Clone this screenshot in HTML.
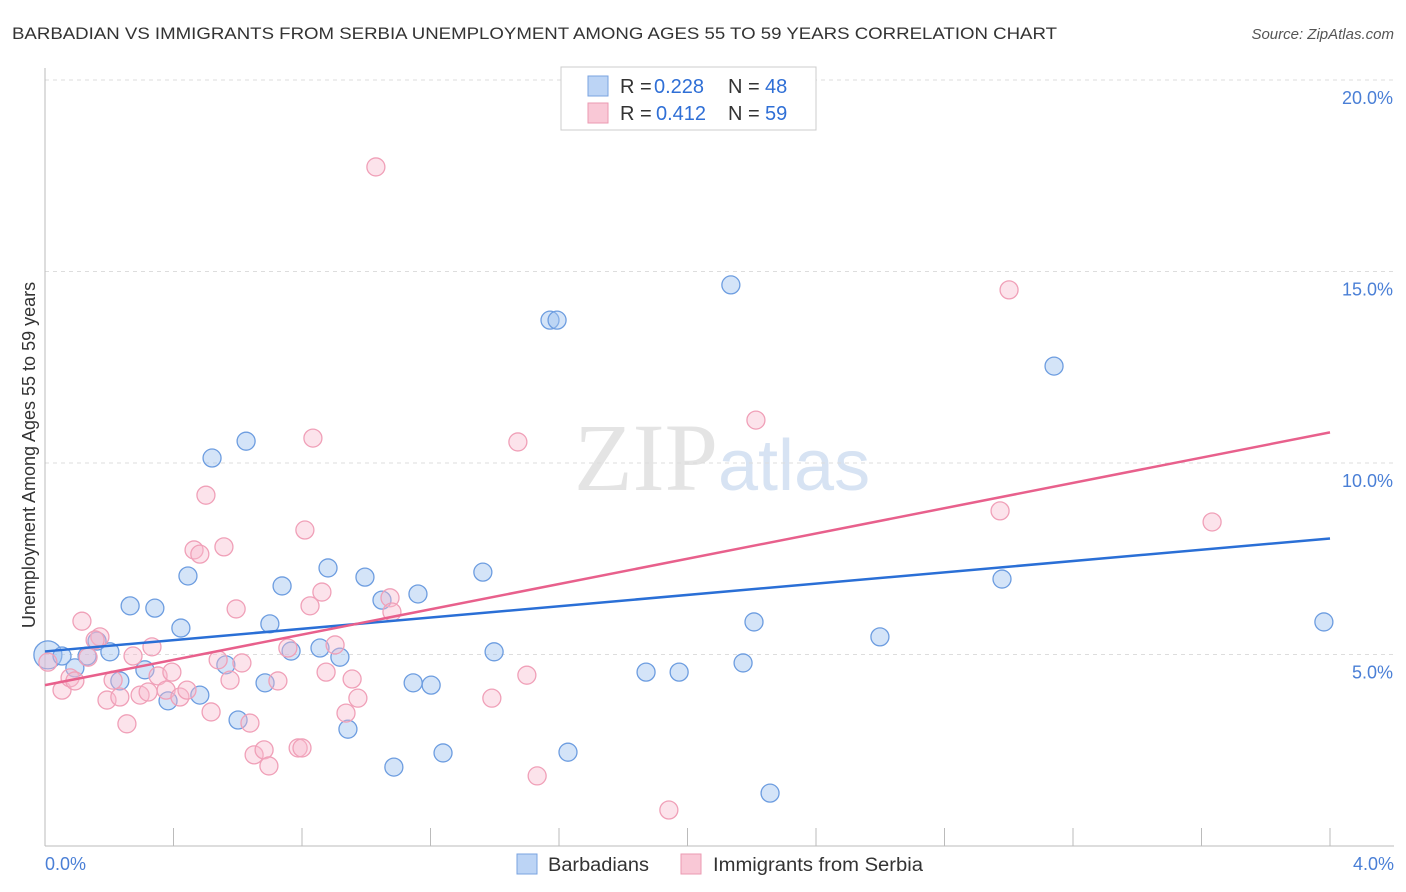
<!DOCTYPE html>
<html><head><meta charset="utf-8"><style>
body{margin:0;background:#fff;font-family:"Liberation Sans",sans-serif}
svg{display:block}
</style></head><body>
<svg width="1406" height="892" xmlns="http://www.w3.org/2000/svg">
<text x="12" y="39" font-size="17" fill="#333" textLength="1045" lengthAdjust="spacingAndGlyphs">BARBADIAN VS IMMIGRANTS FROM SERBIA UNEMPLOYMENT AMONG AGES 55 TO 59 YEARS CORRELATION CHART</text>
<text x="1394" y="39" font-size="15" fill="#555" font-style="italic" text-anchor="end">Source: ZipAtlas.com</text>
<text x="718" y="490" font-size="96" fill="#e4e4e4" text-anchor="end" font-family="Liberation Serif,serif">ZIP</text>
<text x="718" y="490" font-size="72" fill="#d7e3f3">atlas</text>
<g id="grid"></g>
<g id="axes"></g>
<g id="pts"></g>
<g id="lines"></g>
<text transform="translate(35,455) rotate(-90)" font-size="18" fill="#333" text-anchor="middle">Unemployment Among Ages 55 to 59 years</text>
<text x="45" y="870" font-size="18" fill="#4a7fd6">0.0%</text>
<text x="1394" y="870" font-size="18" fill="#4a7fd6" text-anchor="end">4.0%</text>
<g>
<rect x="561" y="67" width="255" height="63" fill="#fff" stroke="#ccc"/>
<rect x="588" y="76" width="20" height="20" fill="#bcd4f5" stroke="#7aa3e0"/>
<rect x="588" y="103" width="20" height="20" fill="#f9c8d6" stroke="#eb9ab2"/>
<text x="620" y="93" font-size="20" fill="#333">R =</text>
<text x="654" y="93" font-size="20" fill="#2f6fd6">0.228</text>
<text x="728" y="93" font-size="20" fill="#333">N =</text>
<text x="765" y="93" font-size="20" fill="#2f6fd6">48</text>
<text x="620" y="120" font-size="20" fill="#333">R =</text>
<text x="656" y="120" font-size="20" fill="#2f6fd6">0.412</text>
<text x="728" y="120" font-size="20" fill="#333">N =</text>
<text x="765" y="120" font-size="20" fill="#2f6fd6">59</text>
</g>
<g>
<rect x="517" y="854" width="20" height="20" fill="#bcd4f5" stroke="#7aa3e0"/>
<text x="548" y="871" font-size="19" fill="#333" textLength="101" lengthAdjust="spacingAndGlyphs">Barbadians</text>
<rect x="681" y="854" width="20" height="20" fill="#f9c8d6" stroke="#eb9ab2"/>
<text x="713" y="871" font-size="19" fill="#333" textLength="210" lengthAdjust="spacingAndGlyphs">Immigrants from Serbia</text>
</g>
</svg>
<script>
const yTicks=[5,10,15,20];
const xTicks=[0,0.4,0.8,1.2,1.6,2.0,2.4,2.8,3.2,3.6,4.0];
const bluePx=[[48,655],[62,656],[75,668],[87,656],[97,641],[110,652],[120,681],[130,606],[145,670],[155,608],[168,701],[181,628],[188,576],[200,695],[212,458],[226,665],[238,720],[246,441],[265,683],[270,624],[282,586],[291,651],[320,648],[328,568],[340,657],[348,729],[365,577],[382,600],[394,767],[413,683],[418,594],[431,685],[443,753],[483,572],[494,652],[550,320],[557,320],[568,752],[646,672],[679,672],[731,285],[743,663],[754,622],[770,793],[880,637],[1002,579],[1054,366],[1324,622]];
const pinkPx=[[48,662],[62,690],[70,678],[75,681],[82,621],[88,657],[100,637],[107,700],[113,680],[120,697],[127,724],[133,656],[140,695],[148,692],[152,647],[158,676],[166,690],[172,672],[180,697],[187,690],[194,550],[200,554],[206,495],[211,712],[218,660],[224,547],[230,680],[236,609],[242,663],[250,723],[254,755],[264,750],[269,766],[278,681],[288,648],[298,748],[305,530],[310,606],[313,438],[322,592],[326,672],[335,645],[346,713],[352,679],[358,698],[376,167],[390,598],[392,612],[492,698],[518,442],[527,675],[537,776],[669,810],[756,420],[1000,511],[1009,290],[1212,522],[95,640],[302,748]];
const blueX=bluePx.map(p=>+((p[0]-45)/321.25).toFixed(3));
const blueY=bluePx.map(p=>+((846-p[1])/38.3).toFixed(2));
const pinkX=pinkPx.map(p=>+((p[0]-45)/321.25).toFixed(3));
const pinkY=pinkPx.map(p=>+((846-p[1])/38.3).toFixed(2));
const blueTrend=[5.08,8.03];
const pinkTrend=[4.2,10.8];
const NS='http://www.w3.org/2000/svg';
const sx=v=>45+v*321.25, sy=v=>846-v*38.3;
function mk(t,a,p){const e=document.createElementNS(NS,t);for(const k in a)e.setAttribute(k,a[k]);p.appendChild(e);return e;}
const grid=document.getElementById('grid'),axes=document.getElementById('axes'),pts=document.getElementById('pts'),lines=document.getElementById('lines');
yTicks.forEach(v=>{
 const l=mk('line',{x1:45,x2:1394,y1:sy(v),y2:sy(v),stroke:'#ddd','stroke-dasharray':'4,4'},grid);
 
 
 const t=mk('text',{x:1393,y:sy(v)+24,'font-size':18,fill:'#4a7fd6','text-anchor':'end'},grid);
 t.textContent=v.toFixed(1)+'%';
 
 
});
const ax=mk('line',{x1:45,x2:45,y1:68,y2:846,stroke:'#bbb'},axes);


const bx=mk('line',{x1:45,x2:1394,y1:846,y2:846,stroke:'#bbb'},axes);


xTicks.forEach(v=>{
 const t=mk('line',{x1:sx(v),x2:sx(v),y1:828,y2:846,stroke:'#bbb'},axes);
 
 
});
blueX.forEach((x,i)=>{
 const c=mk('circle',{cx:sx(x),cy:sy(blueY[i]),r:i==0?14:9,fill:'rgba(160,195,240,0.45)',stroke:'#6d9de0','stroke-width':1.3},pts);
 
 
});
pinkX.forEach((x,i)=>{
 const c=mk('circle',{cx:sx(x),cy:sy(pinkY[i]),r:9,fill:'rgba(248,185,205,0.4)',stroke:'#f0a0b8','stroke-width':1.3},pts);
 
 
});
const bl=mk('line',{x1:sx(0),x2:sx(4),y1:sy(blueTrend[0]),y2:sy(blueTrend[1]),stroke:'#2a6fd6','stroke-width':2.5},lines);


const pl=mk('line',{x1:sx(0),x2:sx(4),y1:sy(pinkTrend[0]),y2:sy(pinkTrend[1]),stroke:'#e8608c','stroke-width':2.5},lines);


</script>
</body></html>
